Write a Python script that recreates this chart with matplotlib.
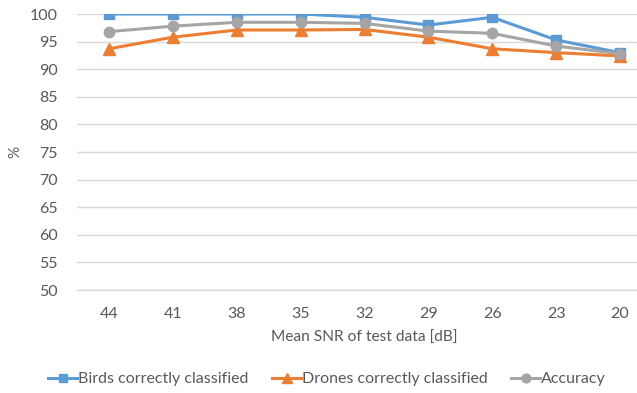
import matplotlib
matplotlib.use("Agg")
import matplotlib.pyplot as plt

snr_labels = ["44", "41", "38", "35", "32", "29", "26", "23", "20"]
birds = [100.0, 100.0, 100.0, 100.0, 99.4, 98.0, 99.4, 95.3, 93.0]
drones = [93.7, 95.8, 97.1, 97.1, 97.2, 95.8, 93.7, 93.0, 92.4]
accuracy = [96.8, 97.8, 98.5, 98.5, 98.3, 96.9, 96.5, 94.2, 92.8]

plt.rcParams['font.family'] = ['Lato', 'DejaVu Sans']
text_color = "#595959"

fig = plt.figure(figsize=(6.37, 3.93), dpi=100)
W, H = 637, 393
ax = fig.add_axes([77 / W, 1 - 290 / H, (637 - 77) / W, (290 - 14) / H])

x = list(range(len(snr_labels)))
ax.plot(x, birds, color="#5B9BD5", lw=2.2, marker="s", ms=7.5,
        label="Birds correctly classified", zorder=3)
ax.plot(x, drones, color="#ED7D31", lw=2.2, marker="^", ms=8,
        label="Drones correctly classified", zorder=3)
ax.plot(x, accuracy, color="#A5A5A5", lw=2.2, marker="o", ms=7.5,
        label="Accuracy", zorder=3)

step = (620 - 109) / 8
ax.set_xlim(-(109 - 77) / step, 8 + (637 - 620) / step)
ax.set_ylim(50, 100)
ax.set_yticks(range(50, 101, 5))
ax.set_xticks(x)
ax.set_xticklabels(snr_labels)
ax.grid(axis="y", color="#D9D9D9", lw=1)
ax.set_axisbelow(True)
for s in ["top", "right", "left"]:
    ax.spines[s].set_visible(False)
ax.spines["bottom"].set_color("#D9D9D9")
ax.spines["bottom"].set_linewidth(1)
ax.tick_params(axis="both", length=0, colors=text_color, labelsize=11.5)
ax.tick_params(axis="x", pad=12)
ax.tick_params(axis="y", pad=14)
for lbl in ax.get_yticklabels() + ax.get_xticklabels():
    lbl.set_color(text_color)

fig.text(15 / W, 1 - 152 / H, "%", color=text_color, fontsize=11,
         rotation=90, ha="center", va="center")
fig.text(364 / W, 1 - 338 / H, "Mean SNR of test data [dB]", color=text_color,
         fontsize=11.2, ha="center", va="center")

leg = fig.legend(loc="center", bbox_to_anchor=(327 / W, 1 - 379 / H), ncol=3,
                 frameon=False, fontsize=11.5, handlelength=1.8,
                 handletextpad=0.05, columnspacing=1.5, markerscale=0.85)
for t in leg.get_texts():
    t.set_color(text_color)

fig.savefig("out.png", dpi=100)
